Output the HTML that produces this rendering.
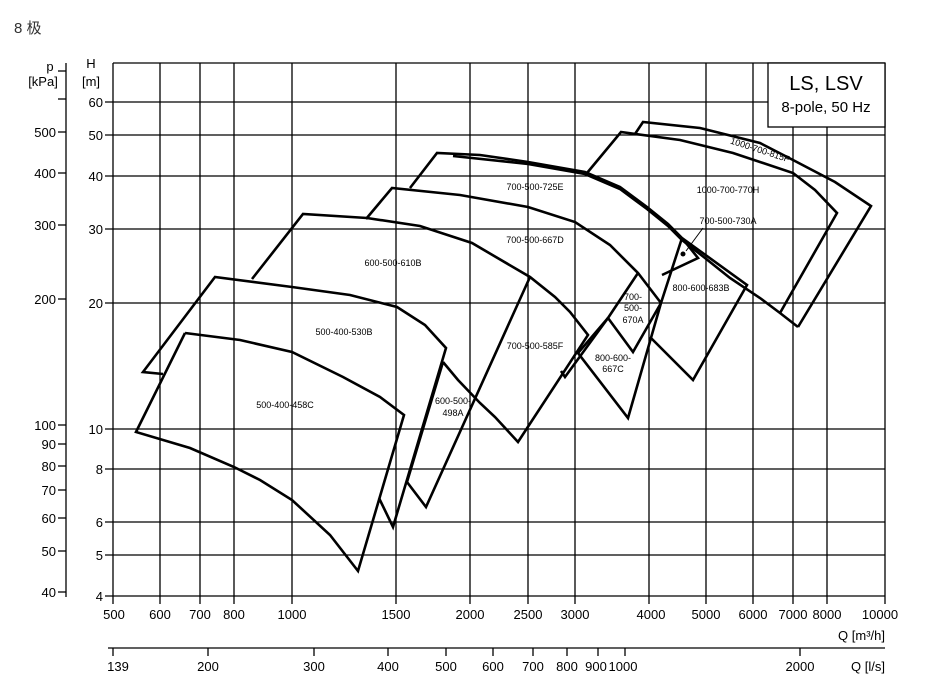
<!DOCTYPE html>
<html><head><meta charset="utf-8"><style>
body{margin:0;background:#fff}
svg{display:block;font-family:"Liberation Sans","Noto Sans CJK SC",sans-serif}
.c{fill:none;stroke:#000;stroke-width:2.6;stroke-linejoin:miter}
.g{stroke:#000;stroke-width:1.3}
.t{font-size:13px}
.l{font-size:9px;text-anchor:middle}
</style></head><body>
<svg width="925" height="697" viewBox="0 0 925 697">
<text x="14" y="33" font-size="15" fill="#333">8 极</text>
<g class="g">
<line x1="113" y1="63" x2="885" y2="63"/>
<line x1="113" y1="63" x2="113" y2="604"/>
<line x1="885" y1="63" x2="885" y2="604"/>
<line x1="160" y1="63" x2="160" y2="604"/><line x1="200" y1="63" x2="200" y2="604"/>
<line x1="234" y1="63" x2="234" y2="604"/><line x1="292" y1="63" x2="292" y2="604"/>
<line x1="396" y1="63" x2="396" y2="604"/><line x1="470" y1="63" x2="470" y2="604"/>
<line x1="528" y1="63" x2="528" y2="604"/><line x1="575" y1="63" x2="575" y2="604"/>
<line x1="649" y1="63" x2="649" y2="604"/><line x1="706" y1="63" x2="706" y2="604"/>
<line x1="753" y1="63" x2="753" y2="604"/><line x1="793" y1="63" x2="793" y2="604"/>
<line x1="827" y1="63" x2="827" y2="604"/>
<line x1="105" y1="102" x2="885" y2="102"/><line x1="105" y1="135" x2="885" y2="135"/>
<line x1="105" y1="176" x2="885" y2="176"/><line x1="105" y1="229" x2="885" y2="229"/>
<line x1="105" y1="303" x2="885" y2="303"/><line x1="105" y1="429" x2="885" y2="429"/>
<line x1="105" y1="469" x2="885" y2="469"/><line x1="105" y1="522" x2="885" y2="522"/>
<line x1="105" y1="555" x2="885" y2="555"/><line x1="105" y1="596" x2="885" y2="596"/>
<line x1="66" y1="63" x2="66" y2="597"/>
<line x1="58" y1="71" x2="66" y2="71"/><line x1="58" y1="99" x2="66" y2="99"/>
<line x1="58" y1="132" x2="66" y2="132"/><line x1="58" y1="173" x2="66" y2="173"/>
<line x1="58" y1="225" x2="66" y2="225"/><line x1="58" y1="299" x2="66" y2="299"/>
<line x1="58" y1="425" x2="66" y2="425"/><line x1="58" y1="444" x2="66" y2="444"/>
<line x1="58" y1="466" x2="66" y2="466"/><line x1="58" y1="490" x2="66" y2="490"/>
<line x1="58" y1="518" x2="66" y2="518"/><line x1="58" y1="551" x2="66" y2="551"/>
<line x1="58" y1="592" x2="66" y2="592"/>
<line x1="108" y1="648" x2="885" y2="648"/>
<line x1="113" y1="648" x2="113" y2="656"/><line x1="208" y1="648" x2="208" y2="656"/>
<line x1="314" y1="648" x2="314" y2="656"/><line x1="388" y1="648" x2="388" y2="656"/>
<line x1="446" y1="648" x2="446" y2="656"/><line x1="493" y1="648" x2="493" y2="656"/>
<line x1="533" y1="648" x2="533" y2="656"/><line x1="567" y1="648" x2="567" y2="656"/>
<line x1="598" y1="648" x2="598" y2="656"/><line x1="625" y1="648" x2="625" y2="656"/>
<line x1="800" y1="648" x2="800" y2="656"/>
</g>
<rect x="768" y="63" width="117" height="64" fill="#fff" stroke="#000" stroke-width="1.3"/>
<text x="826" y="90" font-size="20" text-anchor="middle">LS, LSV</text>
<text x="826" y="112" font-size="15" text-anchor="middle">8-pole, 50 Hz</text>
<g class="t" text-anchor="end">
<text x="50" y="71" text-anchor="middle">p</text>
<text x="43" y="86" text-anchor="middle">[kPa]</text>
<text x="91" y="68" text-anchor="middle">H</text>
<text x="91" y="86" text-anchor="middle">[m]</text>
<text x="103" y="107">60</text><text x="103" y="140">50</text><text x="103" y="181">40</text>
<text x="103" y="234">30</text><text x="103" y="308">20</text><text x="103" y="434">10</text>
<text x="103" y="474">8</text><text x="103" y="527">6</text><text x="103" y="560">5</text><text x="103" y="601">4</text>
<text x="56" y="137">500</text><text x="56" y="178">400</text><text x="56" y="230">300</text>
<text x="56" y="304">200</text><text x="56" y="430">100</text><text x="56" y="449">90</text>
<text x="56" y="471">80</text><text x="56" y="495">70</text><text x="56" y="523">60</text>
<text x="56" y="556">50</text><text x="56" y="597">40</text>
<text x="885" y="640">Q [m³/h]</text><text x="885" y="671">Q [l/s]</text>
</g>
<g class="t" text-anchor="middle">
<text x="114" y="619">500</text><text x="160" y="619">600</text><text x="200" y="619">700</text>
<text x="234" y="619">800</text><text x="292" y="619">1000</text><text x="396" y="619">1500</text>
<text x="470" y="619">2000</text><text x="528" y="619">2500</text><text x="575" y="619">3000</text>
<text x="651" y="619">4000</text><text x="706" y="619">5000</text><text x="753" y="619">6000</text>
<text x="793" y="619">7000</text><text x="827" y="619">8000</text><text x="880" y="619">10000</text>
<text x="118" y="671">139</text><text x="208" y="671">200</text><text x="314" y="671">300</text>
<text x="388" y="671">400</text><text x="446" y="671">500</text><text x="493" y="671">600</text>
<text x="533" y="671">700</text><text x="567" y="671">800</text><text x="596" y="671">900</text>
<text x="623" y="671">1000</text><text x="800" y="671">2000</text>
</g>
<g class="c">
<polyline points="185,333 240,340 292,352 343,377 380,397 404,415 358,571 330,535 292,500 260,480 234,467 190,448 136,432 185,333"/>
<polyline points="163,374 143,372 215,277 292,287 350,295 397,307 425,325 446,348 393,527 379,498"/>
<polyline points="252,279 303,214 367,218 420,226 472,243 530,277 555,297 570,312 588,335 518,442 495,417 480,403 458,380 443,362"/>
<polyline points="530,277 426,507 407,482 443,362"/>
<polyline points="366,219 392,188 460,195 528,207 575,222 610,245 638,273 661,303"/>
<polyline points="638,273 608,318 633,352 661,303"/>
<polyline points="608,318 578,353 628,418 661,303 682,238"/>
<polyline points="608,318 565,377 561,371"/>
<polyline points="410,188 437,153 480,155 528,162 585,172 620,187 647,207 668,224 682,238 700,251 747,285 693,380 650,337"/>
<polyline points="453,156 528,164 585,174 620,189 647,209 668,226 682,240 705,258 730,278 760,298 780,313 798,327"/>
<polyline points="682,238 698,258 662,275"/>
<polyline points="587,173 621,132 680,140 733,153 793,173 815,190 837,213 780,313"/>
<polyline points="635,134 643,122 700,128 760,143 793,160 835,182 871,206 798,327"/>
</g>
<circle cx="683" cy="254" r="2.5"/>
<line x1="686" y1="251" x2="703" y2="228" stroke="#000" stroke-width="1"/>
<g class="l">
<text x="285" y="408">500-400-458C</text>
<text x="344" y="335">500-400-530B</text>
<text x="393" y="266">600-500-610B</text>
<text x="453" y="404">600-500-</text><text x="453" y="416">498A</text>
<text x="535" y="349">700-500-585F</text>
<text x="535" y="243">700-500-667D</text>
<text x="535" y="190">700-500-725E</text>
<text x="728" y="193">1000-700-770H</text>
<text x="728" y="224">700-500-730A</text>
<text x="701" y="291">800-600-683B</text>
<text x="633" y="300">700-</text><text x="633" y="311">500-</text><text x="633" y="323">670A</text>
<text x="613" y="361">800-600-</text><text x="613" y="372">667C</text>
<text x="760" y="153" transform="rotate(18 760 150)">1000-700-815F</text>
</g>
</svg>
</body></html>
